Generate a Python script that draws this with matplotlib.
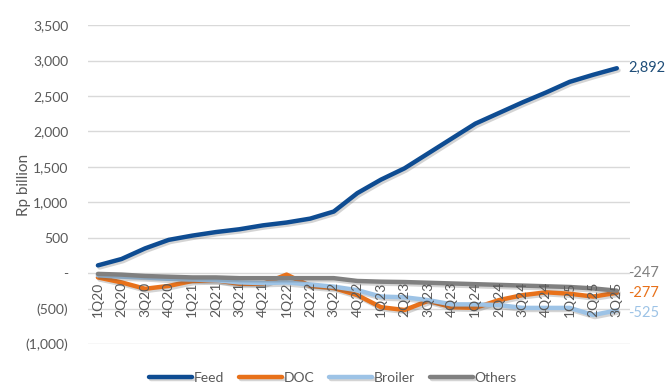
import matplotlib
matplotlib.use("Agg")
import matplotlib.pyplot as plt
import matplotlib.patheffects as pe
from matplotlib.ticker import FuncFormatter

plt.rcParams["font.family"] = ["Lato", "DejaVu Sans"]

quarters = ["1Q20", "2Q20", "3Q20", "4Q20", "1Q21", "2Q21", "3Q21", "4Q21",
            "1Q22", "2Q22", "3Q22", "4Q22", "1Q23", "2Q23", "3Q23", "4Q23",
            "1Q24", "2Q24", "3Q24", "4Q24", "1Q25", "2Q25", "3Q25"]

feed = [110, 200, 350, 470, 530, 580, 620, 675, 715, 770, 870, 1130,
        1320, 1480, 1690, 1900, 2110, 2260, 2410, 2550, 2700, 2800, 2892]
doc = [-60, -130, -220, -180, -110, -100, -150, -150, -20, -180, -210, -310,
       -480, -520, -390, -480, -490, -380, -310, -270, -290, -330, -277]
broiler = [-30, -50, -60, -80, -90, -100, -130, -140, -130, -160, -190, -240,
           -330, -340, -380, -440, -440, -450, -490, -490, -490, -590, -525]
others = [-10, -20, -40, -50, -60, -60, -70, -70, -70, -70, -70, -110,
          -120, -125, -135, -145, -155, -165, -175, -185, -195, -215, -247]

# name, values, line colour, end-label offset (points)
series = [
    ("Feed", feed, "#0E4C92", (8, 0)),
    ("DOC", doc, "#E8711A", (8, 0)),
    ("Broiler", broiler, "#9DC3E6", (8, -2)),
    ("Others", others, "#808080", (8, 13)),
]

fig = plt.figure(figsize=(6.7, 3.87), dpi=100)
ax = fig.add_axes([0.131, 0.111, 0.809, 0.824])

x = list(range(len(quarters)))
shadow = [pe.SimpleLineShadow(offset=(1.2, -1.5), shadow_color="#555555", alpha=0.25),
          pe.Normal()]
for i, (name, vals, color, offs) in enumerate(series):
    ax.plot(x, vals, color=color, lw=3.2, solid_capstyle="round",
            solid_joinstyle="round", label=name, zorder=3 + i,
            path_effects=shadow)
    ax.annotate(f"{vals[-1]:,}", (x[-1], vals[-1]), xytext=offs,
                textcoords="offset points", ha="left", va="center",
                color=color if name != "Feed" else "#1F4E79",
                fontsize=10.5)

ax.set_xlim(-0.43, 22.55)
ax.set_ylim(-1000, 3500)
ax.set_yticks(range(-1000, 3501, 500))


def fmt(v, _):
    if v == 0:
        return "-"
    if v < 0:
        return f"({abs(v):,.0f})"
    return f"{v:,.0f}"


ax.yaxis.set_major_formatter(FuncFormatter(fmt))
ax.grid(axis="y", color="#D9D9D9", lw=1)
ax.set_axisbelow(True)
for s in ax.spines.values():
    s.set_visible(False)

# category labels sit just under the zero line, on top of the lines
ax.set_xticks(x)
ax.set_xticklabels([])
ax.tick_params(axis="x", length=0)
for xi, q in zip(x, quarters):
    ax.annotate(q, (xi, 0), xytext=(0, -6), textcoords="offset points",
                rotation=90, ha="center", va="top", fontsize=10,
                color="#595959", zorder=10)

ax.tick_params(axis="y", length=0, pad=14, labelsize=10, colors="#595959")
ax.set_ylabel("Rp billion", fontsize=11, color="#595959")
ax.yaxis.set_label_coords(-0.105, 0.5)

fig.legend(loc="center", bbox_to_anchor=(0.497, 0.023), ncol=4, frameon=False,
           fontsize=10, handlelength=3.1, handletextpad=0.1,
           columnspacing=1.1, labelcolor="#595959")

fig.savefig("out.png", dpi=100)
